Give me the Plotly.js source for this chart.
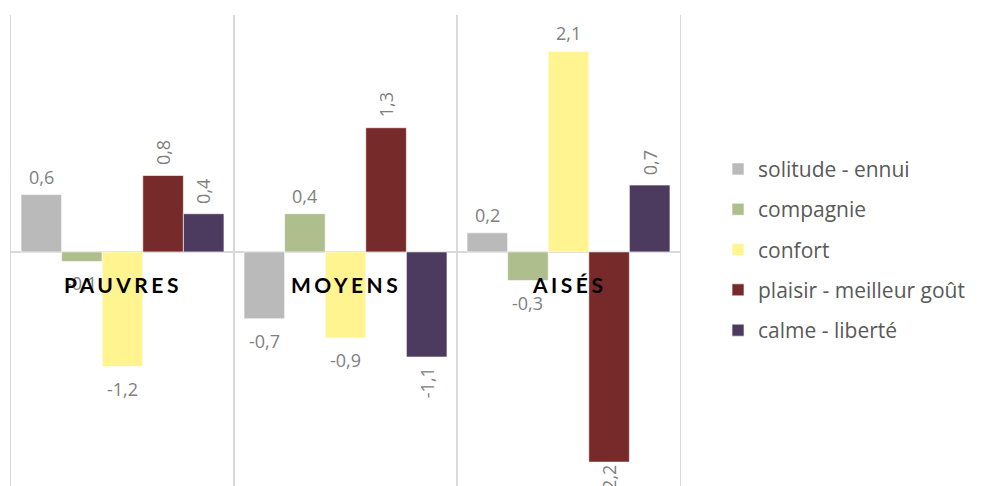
<!DOCTYPE html>
<html>
<head>
<meta charset="utf-8">
<script src="https://cdn.plot.ly/plotly-3.0.1.min.js"></script>
<style>
html,body{margin:0;padding:0;background:#fff;}
#chart{width:984px;height:486px;}
</style>
</head>
<body>
<div id="chart"></div>
<script>
const categories = ["PAUVRES", "MOYENS", "AISÉS"];
const seriesNames = ["solitude - ennui", "compagnie", "confort", "plaisir - meilleur goût", "calme - liberté"];
const solitude = [0.6, -0.7, 0.2];
const compagnie = [-0.1, 0.4, -0.3];
const confort = [-1.2, -0.9, 2.1];
const plaisir = [0.8, 1.3, -2.2];
const calme = [0.4, -1.1, 0.7];
const seriesValues = [solitude, compagnie, confort, plaisir, calme];
const colors = ["#BABABA", "#AEBE8C", "#FFF48F", "#772A2A", "#4D3A5F"];
const angles = [0, 0, 0, -90, -90];

const W = 984, H = 486;
const margin = {l: 11, r: 304, t: 15, b: 0, pad: 0};
const yRange = [-2.45, 2.48];
const bargap = 0.09;
const plotW = W - margin.l - margin.r;
const plotH = H - margin.t - margin.b;
const pxPerUnit = plotH / (yRange[1] - yRange[0]);
const barW = plotW / categories.length * (1 - bargap) / seriesValues.length;

const traces = seriesValues.map((vals, i) => ({
  type: "bar",
  name: seriesNames[i],
  x: categories,
  y: vals,
  marker: {color: colors[i], line: {color: "rgba(255,255,255,0.6)", width: 1}},
  legendgroup: "g" + i,
  hoverinfo: "skip"
}));

function fmt(v) { return v.toFixed(1).replace(".", ","); }

const labelAnns = [];
seriesValues.forEach((vals, i) => {
  vals.forEach((v, j) => {
    const rot = angles[i] !== 0;
    const pos = v >= 0;
    const a = {
      x: categories[j], y: v, xref: "x", yref: "y",
      text: fmt(v), showarrow: false,
      textangle: angles[i],
      xshift: (i - (seriesValues.length - 1) / 2) * barW,
      font: {family: "Open Sans, sans-serif", size: 18, color: "#808080"}
    };
    if (rot) {
      a.yanchor = pos ? "bottom" : "top";
      // keep label inside the frame when the bar nearly reaches the edge
      const room = pos ? (yRange[1] - v) * pxPerUnit : (v - yRange[0]) * pxPerUnit;
      a.yshift = (pos ? 1 : -1) * (room < 40 ? 1 : 8);
    } else {
      a.yanchor = "middle";
      a.yshift = pos ? 18 : -22;
    }
    labelAnns.push(a);
  });
});

const catAnns = categories.map(c => ({
  x: c, y: 0, xref: "x", yref: "y",
  text: "<span style=\"letter-spacing:3.5px\"><b>" + c + "</b></span>",
  showarrow: false,
  yshift: -33,
  font: {family: "Lato, sans-serif", size: 21, color: "#000000"}
}));

const layout = {
  width: W, height: H,
  margin: margin,
  paper_bgcolor: "#ffffff", plot_bgcolor: "#ffffff",
  barmode: "group",
  bargap: bargap,
  bargroupgap: 0,
  showlegend: true,
  xaxis: {
    type: "category",
    tickson: "boundaries",
    showgrid: true, gridcolor: "#D9D9D9", gridwidth: 1.3,
    showticklabels: false, ticks: "", showline: false, zeroline: false,
    fixedrange: true
  },
  yaxis: {
    range: yRange,
    showgrid: false, showticklabels: false, ticks: "",
    showline: true, mirror: true, linecolor: "#D9D9D9", linewidth: 1.3,
    zeroline: true, zerolinecolor: "#D9D9D9", zerolinewidth: 2,
    fixedrange: true
  },
  legend: {
    xref: "container", yref: "container",
    x: 0.7297, y: 0.486, xanchor: "left", yanchor: "middle",
    font: {family: "Open Sans, sans-serif", size: 21, color: "#595959"},
    traceorder: "grouped",
    tracegroupgap: 10,
    itemwidth: 30
  },
  annotations: labelAnns.concat(catAnns)
};

Plotly.newPlot("chart", traces, layout, {displayModeBar: false, staticPlot: true});
</script>
</body>
</html>
